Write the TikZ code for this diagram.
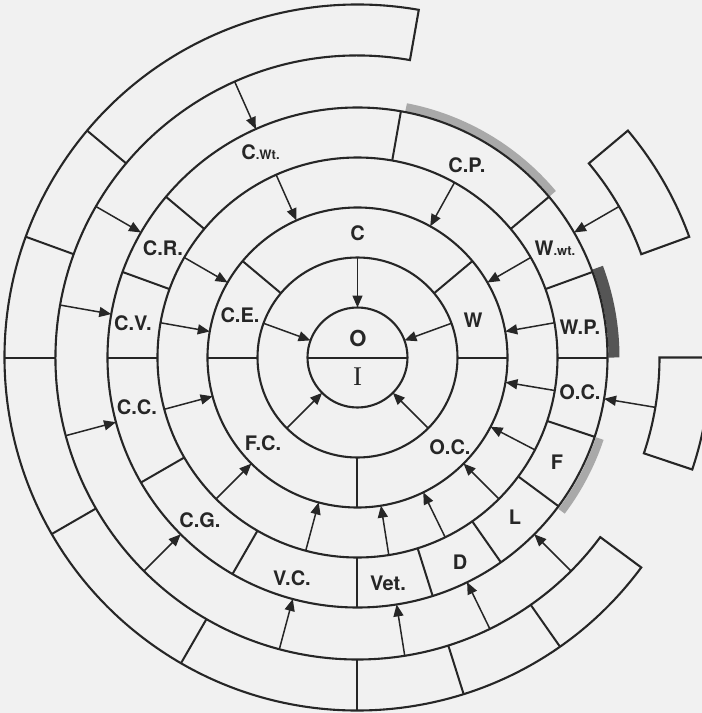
\documentclass[tikz,border=0pt]{standalone}
\usepackage{fontspec}
\setmainfont{TeX Gyre Heros}
\newfontfamily\seriffont{Liberation Serif}
\usetikzlibrary{arrows.meta}
\definecolor{ink}{HTML}{262626}
\definecolor{paper}{HTML}{F1F1F1}
\definecolor{bandlight}{HTML}{A9A9A9}
\definecolor{banddark}{HTML}{555555}
\begin{document}
\begin{tikzpicture}[x=1pt,y=1pt,
  ring/.style={draw=ink, line width=2.1pt},
  divider/.style={draw=ink, line width=2pt},
  arr/.style={draw=ink, line width=1.5pt, -{Triangle[length=12pt,width=10pt]}},
  lab/.style={font=\bfseries\fontsize{20}{20}\selectfont, text=ink, inner sep=0pt},
  lightband/.style={draw=bandlight, line width=8pt},
  darkband/.style={draw=banddark, line width=11pt}]
\fill[paper] (-357.5,-355.5) rectangle (344.5,357.5);
\useasboundingbox (-357.5,-355.5) rectangle (344.5,357.5);

% coloured bands outside ring 250
\draw[lightband] (40:255) arc[start angle=40,end angle=79,radius=255];
\draw[darkband] (0:256.5) arc[start angle=0,end angle=20.5,radius=256.5];
\draw[lightband] (323:255.5) arc[start angle=323,end angle=341.5,radius=255.5];

% full circles
\foreach \r in {50,100,150,200,250} \draw[ring] (0,0) circle[radius=\r];

% outer ring
\draw[ring] (80:302) arc[start angle=80,end angle=323.5,radius=302]
  -- (323.5:353) arc[start angle=323.5,end angle=80,radius=353] -- cycle;
% separate outer boxes
\draw[ring] (20:302) arc[start angle=20,end angle=40,radius=302]
  -- (40:353) arc[start angle=40,end angle=20,radius=353] -- cycle;
\draw[ring] (341.5:302) arc[start angle=341.5,end angle=360,radius=302]
  -- (0:353) arc[start angle=360,end angle=341.5,radius=353] -- cycle;

% dividers
\draw[divider] (180:50) -- (0:50);
\foreach \a in {0,40,140,180,270} \draw[divider] (\a:100) -- (\a:150);
\foreach \a in {0,20,40,80,140,160,180,210,240,270,287.5,305,323.5,341.5}
  \draw[divider] (\a:200) -- (\a:250);
\foreach \a in {140,160,180,210,240,270,287.5,305}
  \draw[divider] (\a:302) -- (\a:353);

% arrows between rings
\foreach \a [count=\i] in {90,160,20,315,225} {
  \coordinate (a\i s) at (\a:100); \coordinate (a\i e) at (\a:50);
  \draw[arr] (a\i s) -- (a\i e);}
\foreach \a [count=\i] in {114,61,150,170,30,10,350.5,332.5,315,296,279,255,225,195} {
  \coordinate (b\i s) at (\a:200); \coordinate (b\i e) at (\a:150);
  \draw[arr] (b\i s) -- (b\i e);}
\foreach \a [count=\i] in {114,150,170,195,225,255,279,296,315,30,350.5} {
  \coordinate (c\i s) at (\a:302); \coordinate (c\i e) at (\a:250);
  \draw[arr] (c\i s) -- (c\i e);}

% labels
\node[lab] (O) at (0.5,19.5) {\fontsize{22}{22}\selectfont O};
\node[lab] (I) at (0,-19.5) {\seriffont\mdseries\fontsize{27}{27}\selectfont I};
\node[lab] (C) at (0,124.5) {C};
\node[lab] (W) at (115.5,37.5) {W};
\node[lab] (CE) at (-117.5,42.5) {C.E.};
\node[lab] (FC) at (-94.5,-85.5) {F.C.};
\node[lab] (OC1) at (92.5,-89.5) {O.C.};
\node[lab] (CWt) at (-97,205.5) {C{\fontsize{13}{13}\selectfont .Wt.}};
\node[lab] (CP) at (109.5,192.5) {C.P.};
\node[lab] (WWt) at (197.5,109.5) {W{\fontsize{13}{13}\selectfont .wt.}};
\node[lab] (WP) at (222.5,30.5) {W.P.};
\node[lab] (OC2) at (222.5,-34.5) {O.C.};
\node[lab] (F) at (199.5,-104.5) {F};
\node[lab] (L) at (157.5,-159.5) {L};
\node[lab] (D) at (102.5,-204.5) {D};
\node[lab] (Vet) at (30.5,-225.5) {Vet.};
\node[lab] (VC) at (-65.5,-220.5) {V.C.};
\node[lab] (CG) at (-157.5,-162.5) {C.G.};
\node[lab] (CC) at (-220.5,-49.5) {C.C.};
\node[lab] (CV) at (-224.5,34.5) {C.V.};
\node[lab] (CR) at (-194.5,109.5) {C.R.};
\end{tikzpicture}
\end{document}
